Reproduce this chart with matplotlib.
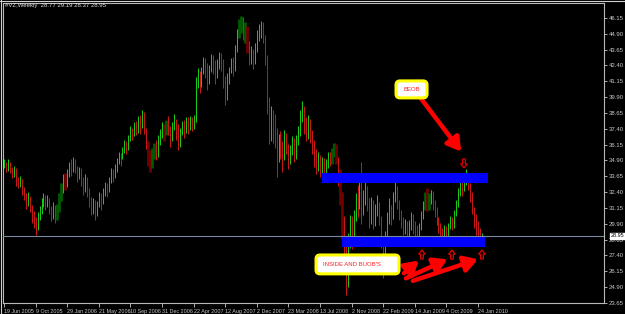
import matplotlib
matplotlib.use("Agg")
import matplotlib.pyplot as plt
from matplotlib.patches import FancyBboxPatch, Rectangle, FancyArrow
import numpy as np

plt.rcParams['font.family'] = ['Liberation Sans', 'DejaVu Sans']

symbol = "#VZ,Weekly"
last_bar = [28.77, 29.19, 28.37, 28.95]  # open high low close of the last week

week_labels = ["19 Jun 2005", "9 Oct 2005", "29 Jan 2006", "21 May 2006", "10 Sep 2006",
               "31 Dec 2006", "22 Apr 2007", "12 Aug 2007", "2 Dec 2007", "23 Mar 2008",
               "13 Jul 2008", "2 Nov 2008", "22 Feb 2009", "14 Jun 2009", "4 Oct 2009",
               "24 Jan 2010"]

first_open = 34.6
highs = [35.0, 34.8, 35.0, 34.8, 34.4, 34.5, 34.3, 33.6, 33.7, 33.4,
         32.8, 32.3, 32.4, 32.1, 31.4, 30.9, 30.4, 30.8, 31.3, 31.9,
         32.3, 32.2, 32.2, 31.9, 31.3, 31.6, 31.4, 31.5, 32.3, 33.1,
         33.8, 33.9, 34.2, 34.8, 35.0, 35.2, 35.0, 34.5, 34.4, 34.3,
         33.6, 33.8, 33.6, 32.7, 32.0, 31.9, 31.8, 31.7, 32.4, 32.3,
         32.7, 33.2, 33.1, 33.6, 34.3, 34.2, 34.6, 35.1, 35.6, 35.5,
         36.0, 36.5, 36.4, 36.9, 37.6, 37.5, 37.9, 38.0, 38.4, 38.5,
         38.9, 38.7, 37.5, 36.4, 35.7, 35.9, 36.3, 36.5, 36.9, 37.4,
         37.9, 37.8, 38.1, 38.4, 37.6, 37.9, 38.6, 38.2, 37.8, 37.5,
         38.0, 38.1, 38.3, 38.3, 38.4, 38.3, 38.5, 41.5, 42.2, 42.0,
         42.3, 43.1, 43.0, 42.6, 42.4, 43.3, 43.2, 42.8, 42.9, 43.5,
         43.4, 42.9, 41.6, 41.8, 42.3, 43.0, 43.1, 44.0, 45.3, 46.1,
         46.3, 46.2, 45.8, 45.5, 44.3, 43.9, 43.7, 44.2, 45.2, 45.7,
         45.9, 45.8, 44.8, 43.2, 39.9, 39.2, 38.9, 38.6, 37.5, 37.0,
         37.2, 36.4, 37.3, 37.1, 36.2, 36.1, 36.8, 36.7, 36.9, 37.6,
         38.9, 39.6, 39.2, 38.3, 38.5, 38.2, 37.3, 36.5, 35.8, 35.6,
         35.3, 35.2, 35.1, 35.0, 35.6, 35.6, 35.9, 36.3, 36.2, 35.2,
         34.2, 32.4, 30.5, 28.3, 29.2, 30.6, 30.5, 31.0, 32.3, 33.0,
         33.3, 34.8, 32.6, 33.2, 32.9, 31.9, 32.0, 31.8, 31.5, 32.2,
         31.6, 30.5, 28.9, 29.3, 30.8, 31.9, 31.4, 32.4, 33.2, 32.9,
         31.8, 31.0, 30.4, 30.3, 30.1, 30.2, 30.8, 30.7, 30.1, 29.8,
         30.0, 30.9, 31.7, 32.4, 32.7, 32.3, 32.6, 32.5, 31.8, 31.2,
         30.4, 30.0, 29.6, 29.8, 29.7, 30.0, 30.5, 30.4, 31.0, 31.8,
         32.7, 33.4, 33.3, 33.8, 34.2, 33.9, 33.1, 32.4, 31.2, 30.7,
         30.1, 29.6, 29.19]
lows = [34.3, 34.0, 34.1, 33.9, 33.5, 33.6, 32.9, 32.7, 32.8, 32.2,
        31.8, 31.1, 31.3, 30.8, 30.0, 29.6, 29.0, 29.4, 30.2, 30.7,
        31.2, 31.0, 31.2, 30.7, 30.1, 30.3, 30.0, 30.2, 30.8, 31.7,
        32.3, 32.6, 32.8, 33.6, 33.7, 34.0, 33.9, 33.2, 33.4, 32.9,
        32.2, 32.4, 32.0, 31.2, 30.6, 30.7, 30.2, 30.5, 31.2, 31.0,
        31.5, 32.1, 32.0, 32.4, 33.1, 33.2, 33.5, 34.0, 34.6, 34.5,
        35.0, 35.5, 35.4, 35.7, 36.4, 36.5, 36.8, 36.9, 37.1, 37.0,
        37.5, 37.0, 35.8, 34.5, 34.0, 34.3, 35.0, 34.9, 35.2, 36.1,
        36.7, 36.4, 36.9, 36.9, 36.0, 36.4, 37.3, 36.5, 35.7, 36.0,
        36.9, 36.7, 37.1, 37.0, 37.3, 37.2, 37.4, 37.9, 40.6, 40.2,
        40.7, 41.7, 41.4, 40.5, 40.9, 41.9, 41.7, 40.9, 41.4, 42.1,
        42.0, 40.6, 39.3, 39.7, 40.9, 41.8, 41.6, 42.0, 43.5, 44.6,
        45.0, 44.4, 44.2, 43.4, 42.4, 42.5, 42.1, 42.5, 43.5, 44.3,
        44.6, 44.2, 42.4, 38.6, 36.2, 36.4, 36.3, 35.9, 33.6, 34.8,
        35.0, 34.0, 34.9, 35.4, 34.2, 34.6, 35.3, 34.8, 35.0, 36.1,
        36.8, 37.9, 37.0, 36.4, 36.6, 36.3, 35.4, 34.4, 33.8, 34.1,
        33.6, 33.9, 33.7, 33.8, 34.3, 34.5, 34.6, 35.2, 34.6, 32.9,
        31.4, 28.7, 25.9, 24.3, 24.9, 28.0, 27.9, 28.5, 30.1, 30.4,
        31.1, 29.9, 30.6, 31.4, 30.9, 29.6, 29.9, 29.5, 29.7, 30.5,
        29.8, 28.0, 25.6, 26.7, 28.6, 29.9, 29.8, 30.3, 31.6, 31.1,
        30.2, 29.6, 29.0, 29.1, 28.7, 28.8, 29.4, 29.1, 28.7, 28.4,
        28.7, 29.4, 30.3, 31.0, 30.9, 31.0, 31.5, 31.0, 30.4, 29.8,
        29.2, 28.8, 28.4, 28.6, 28.5, 28.9, 29.5, 29.4, 29.6, 30.5,
        31.2, 32.1, 32.1, 32.5, 33.0, 32.6, 31.6, 30.7, 29.6, 29.0,
        28.7, 28.2, 28.37]
closes = [34.6, 34.3, 34.7, 34.2, 33.9, 34.1, 33.5, 33.0, 33.3, 32.6,
          32.1, 31.6, 32.0, 31.2, 30.5, 30.1, 29.5, 30.3, 30.9, 31.5,
          31.9, 31.4, 31.8, 31.0, 30.6, 31.2, 30.4, 31.0, 31.9, 32.6,
          33.4, 33.0, 33.9, 34.5, 34.2, 34.9, 34.4, 33.7, 34.0, 33.3,
          32.8, 33.2, 32.4, 31.6, 31.0, 31.5, 30.6, 31.3, 32.0, 31.6,
          32.3, 32.9, 32.5, 33.3, 33.9, 33.6, 34.2, 34.8, 35.3, 35.0,
          35.7, 36.2, 35.8, 36.6, 37.3, 36.9, 37.6, 37.2, 38.1, 37.7,
          38.5, 37.4, 36.2, 35.1, 34.6, 35.2, 35.8, 35.4, 36.4, 36.9,
          37.4, 37.0, 37.7, 37.3, 36.6, 37.5, 38.0, 37.3, 36.2, 37.1,
          37.6, 37.2, 37.9, 37.5, 38.0, 37.7, 38.2, 40.9, 41.5, 40.8,
          41.9, 42.6, 42.2, 41.3, 42.1, 42.8, 42.4, 41.6, 42.5, 43.0,
          42.6, 41.3, 40.0, 41.1, 41.9, 42.6, 42.2, 43.6, 44.9, 45.5,
          45.9, 44.8, 45.3, 44.1, 42.9, 43.4, 42.6, 43.8, 44.7, 45.2,
          45.5, 44.6, 42.8, 39.4, 37.8, 38.5, 37.4, 36.5, 35.0, 36.3,
          35.8, 35.3, 36.7, 35.9, 34.9, 35.6, 36.0, 35.2, 36.4, 37.1,
          38.2, 38.8, 37.9, 37.2, 37.8, 36.8, 36.1, 35.3, 34.6, 35.0,
          34.3, 34.8, 34.1, 34.6, 35.3, 34.9, 35.5, 35.9, 35.1, 34.0,
          32.0, 29.8, 27.0, 25.4, 28.6, 29.8, 29.1, 30.4, 31.8, 31.2,
          32.9, 31.0, 31.9, 32.5, 31.6, 30.7, 31.4, 30.4, 30.9, 31.5,
          30.2, 28.4, 27.1, 28.9, 30.3, 31.2, 30.5, 31.9, 32.7, 31.6,
          30.8, 30.1, 29.5, 29.9, 29.2, 29.7, 30.4, 29.8, 29.3, 28.9,
          29.6, 30.5, 31.3, 32.0, 31.6, 31.9, 32.3, 31.5, 30.9, 30.2,
          29.6, 29.1, 28.9, 29.4, 29.0, 29.6, 30.1, 29.8, 30.7, 31.4,
          32.3, 33.1, 32.6, 33.5, 33.8, 32.9, 32.1, 31.0, 30.2, 29.6,
          29.3, 28.77, 28.95]

# bars painted dark and wide by the inside-bar indicator
marked_bars = [27, 28, 29, 31, 73, 74, 75, 76, 81, 82, 119, 120, 122, 123,
               166, 167, 168, 170, 171, 213, 214, 215]

# hand drawn zones: first bar, last bar, bottom price, top price
resistance_zone = [161, 245, 33.13, 33.92]
support_zone = [171, 243.5, 28.08, 28.87]

W, H = 625, 314
fig = plt.figure(figsize=(W / 100, H / 100), dpi=100, facecolor='black')
ax = fig.add_axes([3 / W, 11 / H, 601 / W, 300 / H], facecolor='black')

n = len(closes)
idx = np.arange(n)
opens = [first_open] + closes[:-1]
up = [c >= o for o, c in zip(opens, closes)]
bright = ['#18d018' if u else '#d01818' for u in up]
darkc = ['#005a00' if u else '#6e0000' for u in up]

mset = set(marked_bars)
norm = [i for i in idx if i not in mset]
ax.vlines(marked_bars, [lows[i] for i in marked_bars], [highs[i] for i in marked_bars],
          colors=[darkc[i] for i in marked_bars], lw=2.0, zorder=2)
ax.vlines(norm, [lows[i] for i in norm], [highs[i] for i in norm],
          colors=[bright[i] for i in norm], lw=0.7, zorder=2)

for z in (resistance_zone, support_zone):
    ax.add_patch(Rectangle((z[0], z[2]), z[1] - z[0], z[3] - z[2],
                           facecolor='#0000ff', edgecolor='none', zorder=3))

ax.axhline(last_bar[3], color='#7888a0', lw=0.8, zorder=4)

ax.set_xlim(-0.5, 303.8)
ax.set_ylim(23.65, 47.33)

ax.yaxis.tick_right()
yt = np.arange(23.65, 46.2, 1.25)
ax.set_yticks(yt)
ax.set_yticklabels([f"{v:.2f}" for v in yt])
ax.set_xticks(range(0, n, 16))
ax.set_xticklabels(week_labels)
for lab in ax.get_xticklabels():
    lab.set_horizontalalignment('left')
ax.tick_params(axis='y', colors='#c8c8c8', length=2, width=0.6, pad=1.5, labelsize=4.3)
ax.tick_params(axis='x', colors='#c8c8c8', length=3, width=0.6, pad=1.0, labelsize=3.9)
for s in ax.spines.values():
    s.set_color('#b8b8b8')
    s.set_linewidth(0.8)

ax.annotate(f"{last_bar[3]:.2f}", xy=(1, last_bar[3]), xycoords=('axes fraction', 'data'),
            xytext=(5.0, 0), textcoords='offset points', va='center', ha='left',
            fontsize=4.0, color='black',
            bbox=dict(boxstyle='square,pad=0.12', fc='white', ec='white'), zorder=6,
            annotation_clip=False)

fig.text(5 / W, 1 - 6 / H, symbol + "  " + " ".join(f"{v:.2f}" for v in last_bar),
         color='#e0e0e0', fontsize=4.3, va='center', ha='left')

# text boxes
asp = (1.975 / 12.67)
for (x0, y0, w, h) in [(198.5, 39.84, 15.7, 1.34), (158.0, 25.95, 42.0, 1.49)]:
    ax.add_patch(FancyBboxPatch((x0, y0), w, h, boxstyle='round,pad=0,rounding_size=2.0',
                                mutation_aspect=asp, facecolor='white', edgecolor='#ffff00',
                                lw=2.2, zorder=7))
ax.text(206.3, 40.51, "BEOB", color='#ff2020', fontsize=4.3, ha='center', va='center', zorder=8)
ax.text(161.5, 26.69, "INSIDE AND BUOB'S", color='#ff2020', fontsize=4.3, ha='left',
        va='center', zorder=8)

arrow_kw = dict(arrowstyle='-|>,head_length=1.0,head_width=0.6', color='#ff0000',
                lw=3.2, shrinkA=0, shrinkB=0, mutation_scale=8)
ax.annotate('', xy=(231.5, 35.6), xytext=(210.6, 39.9), arrowprops=arrow_kw, zorder=6)
for (xs, ys, xe, ye) in [(202.5, 26.0, 210.0, 27.0), (203.5, 25.6, 224.5, 27.1),
                         (207.0, 25.4, 240.0, 27.1)]:
    ax.annotate('', xy=(xe, ye), xytext=(xs, ys), arrowprops=arrow_kw, zorder=6)

# hollow signal arrows
hollow = dict(width=1.4, head_width=3.4, head_length=0.33, length_includes_head=True,
              fill=False, edgecolor='#e00000', lw=0.9, zorder=8)
ax.add_patch(FancyArrow(232.9, 35.02, 0, -0.71, **hollow))
for xa in (211.6, 226.8, 242.0):
    ax.add_patch(FancyArrow(xa, 27.12, 0, 0.71, **hollow))

# window border on top / left
fig.add_artist(plt.Line2D([0.5 / W, 0.5 / W], [0, 1], color='#d0d0d0', lw=0.8))
fig.add_artist(plt.Line2D([0, 1], [1 - 0.5 / H, 1 - 0.5 / H], color='#d0d0d0', lw=0.8))

fig.savefig("out.png", dpi=100, facecolor='black')
